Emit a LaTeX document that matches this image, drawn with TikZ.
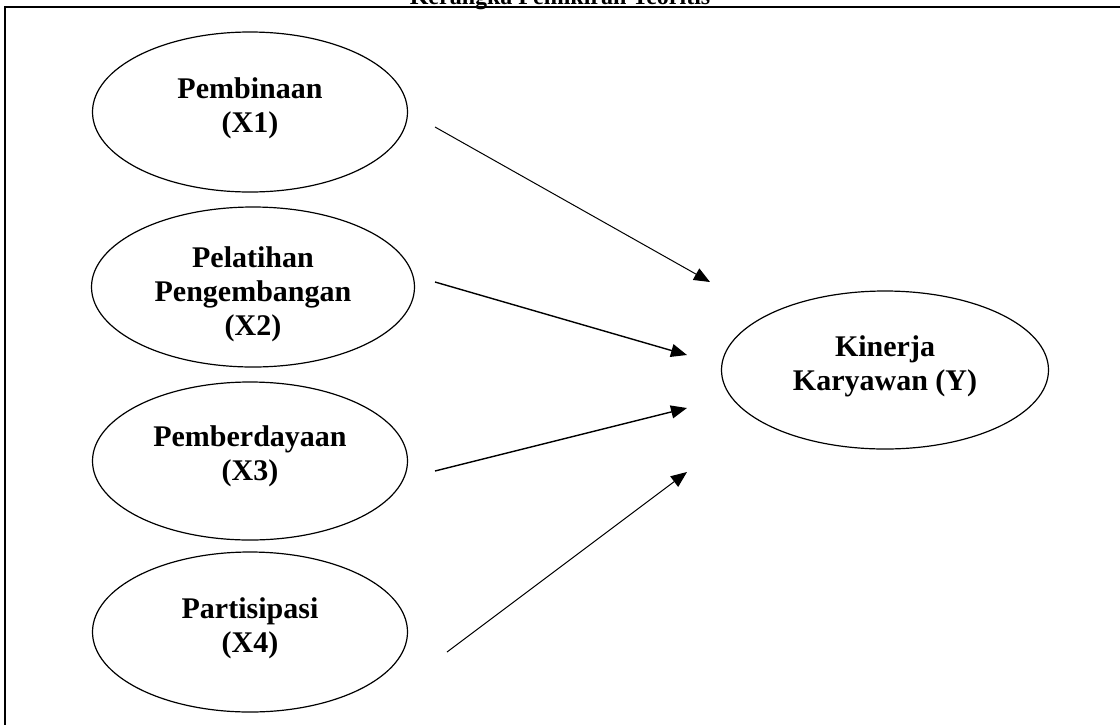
\documentclass[tikz,border=0pt]{standalone}
\usepackage{fontspec}
\setmainfont{Liberation Serif}
\usetikzlibrary{shapes.geometric,arrows.meta}

\tikzset{
  varellipse/.style={draw, ellipse, line width=1.2pt, inner sep=0pt},
  vartext/.style={anchor=base, align=center, inner sep=0pt, font=\bfseries\fontsize{30}{34}\selectfont},
  link/.style={-{Triangle[length=16pt,width=13pt]}, line width=1pt}
}

\begin{document}
\begin{tikzpicture}[x=1pt,y=-1pt]
\useasboundingbox (0,0) rectangle (1120,724);
\draw [line width=1.5pt] (5,7) rectangle (1140,740);
\node [anchor=base, font=\bfseries\fontsize{24}{28}\selectfont] (judul) at (560,4) {Kerangka Pemikiran Teoritis};
\node [varellipse, minimum width=315pt, minimum height=160pt] (x1) at (250,112) {};
\node [varellipse, minimum width=323pt, minimum height=160pt] (x2) at (253,287) {};
\node [varellipse, minimum width=315pt, minimum height=158pt] (x3) at (250,461) {};
\node [varellipse, minimum width=315pt, minimum height=160pt] (x4) at (250,632) {};
\node [varellipse, minimum width=327pt, minimum height=158pt] (y) at (885,370) {};
\node [vartext] (x1txt) at ([yshift=-20pt]x1.center) {Pembinaan\\(X1)};
\node [vartext] (x2txt) at ([yshift=-48pt]x2.center) {Pelatihan\\Pengembangan\\(X2)};
\node [vartext] (x3txt) at ([yshift=-19pt]x3.center) {Pemberdayaan\\(X3)};
\node [vartext] (x4txt) at ([yshift=-20pt]x4.center) {Partisipasi\\(X4)};
\node [vartext] (ytxt) at ([yshift=-20pt]y.center) {Kinerja\\Karyawan (Y)};
\coordinate (s1) at (435,127);
\coordinate (t1) at (710,282);
\coordinate (s2) at (435,282);
\coordinate (t2) at (687,355);
\coordinate (s3) at (435,471);
\coordinate (t3) at (687,408);
\coordinate (s4) at (447,652);
\coordinate (t4) at (687,472);
\draw [link] (s1) -- (t1);
\draw [link, line width=1.4pt] (s2) -- (t2);
\draw [link, line width=1.4pt] (s3) -- (t3);
\draw [link] (s4) -- (t4);
\end{tikzpicture}
\end{document}
